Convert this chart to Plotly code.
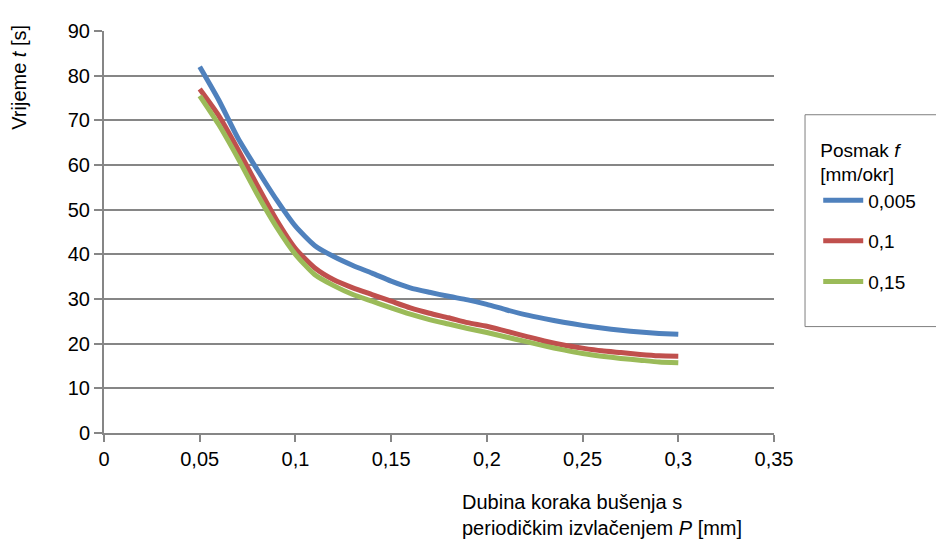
import plotly.graph_objects as go

depth_p = [0.05, 0.06, 0.07, 0.08, 0.09, 0.10, 0.11, 0.12, 0.13, 0.14, 0.15, 0.16, 0.17,
           0.18, 0.19, 0.20, 0.21, 0.22, 0.23, 0.24, 0.25, 0.26, 0.27, 0.28, 0.29, 0.30]
t_f0005 = [82, 74.5, 66, 59, 52.3, 46.3, 42, 39.5, 37.5, 35.8, 34, 32.5, 31.5,
           30.6, 29.8, 28.8, 27.6, 26.5, 25.6, 24.8, 24.1, 23.5, 23, 22.6, 22.3, 22.1]
t_f01 = [77, 71, 63.5, 55.5, 47.8, 41.3, 37, 34.3, 32.5, 31, 29.5, 28, 26.8,
         25.8, 24.7, 23.9, 22.8, 21.7, 20.6, 19.7, 19, 18.4, 18, 17.6, 17.3, 17.2]
t_f015 = [75.5, 69, 61.5, 53.5, 46.2, 40, 35.5, 33, 31, 29.5, 28, 26.6, 25.4,
          24.4, 23.4, 22.5, 21.5, 20.5, 19.5, 18.6, 17.8, 17.2, 16.7, 16.3, 15.9, 15.7]
series_names = ["0,005", "0,1", "0,15"]
series_colors = ["#4F81BD", "#C0504D", "#9BBB59"]
x_ticks = [0, 0.05, 0.1, 0.15, 0.2, 0.25, 0.3, 0.35]
y_ticks = [0, 10, 20, 30, 40, 50, 60, 70, 80, 90]

fig = go.Figure()
for i, (name, ys, col) in enumerate(zip(series_names, [t_f0005, t_f01, t_f015], series_colors)):
    fig.add_trace(go.Scatter(x=depth_p, y=ys, mode="lines", name=name,
                             legendgroup=f"g{i}",
                             line=dict(color=col, width=5, shape="spline", smoothing=0.6)))

font_family = "Liberation Sans, Arial, sans-serif"
fig.update_layout(
    width=936, height=534,
    margin=dict(l=96, r=170, t=17, b=109),
    paper_bgcolor="white", plot_bgcolor="white",
    separators=",.",
    font=dict(family=font_family, size=20, color="#000000"),
    showlegend=True,
    legend=dict(
        title=dict(text="Posmak <i>f</i><br>[mm/okr]", font=dict(size=19)),
        x=1.066, y=0.749, xanchor="left", yanchor="top",
        borderwidth=0, bgcolor="rgba(0,0,0,0)",
        font=dict(size=19), tracegroupgap=13, itemwidth=40,
    ),
    xaxis=dict(
        range=[0, 0.35], tickvals=x_ticks, showgrid=False,
        showline=True, linecolor="#868686", linewidth=2,
        ticks="outside", ticklen=7, tickwidth=2, tickcolor="#868686",
        zeroline=False, fixedrange=True,
    ),
    yaxis=dict(
        range=[0, 90], tickvals=y_ticks, showgrid=True,
        gridcolor="#868686", gridwidth=2,
        showline=True, linecolor="#868686", linewidth=2,
        ticks="outside", ticklen=8, tickwidth=2, tickcolor="#868686",
        zeroline=False, fixedrange=True,
    ),
    shapes=[
        dict(type="rect", xref="paper", yref="paper",
             x0=1.0463, x1=1.26, y0=0.2647, y1=0.7917,
             line=dict(color="#7f7f7f", width=1), fillcolor="rgba(0,0,0,0)"),
    ],
    annotations=[
        dict(text="Vrijeme <i>t</i> [s]", xref="paper", yref="paper",
             x=-0.127, y=0.886, textangle=-90, showarrow=False,
             xanchor="center", yanchor="middle", font=dict(size=20)),
        dict(text="Dubina koraka bušenja s<br>periodičkim izvlačenjem <i>P</i> [mm]",
             xref="paper", yref="paper", x=0.532, y=-0.269, xanchor="left", yanchor="bottom",
             align="left", showarrow=False, font=dict(size=20)),
    ],
)

fig.write_html("out.html")
